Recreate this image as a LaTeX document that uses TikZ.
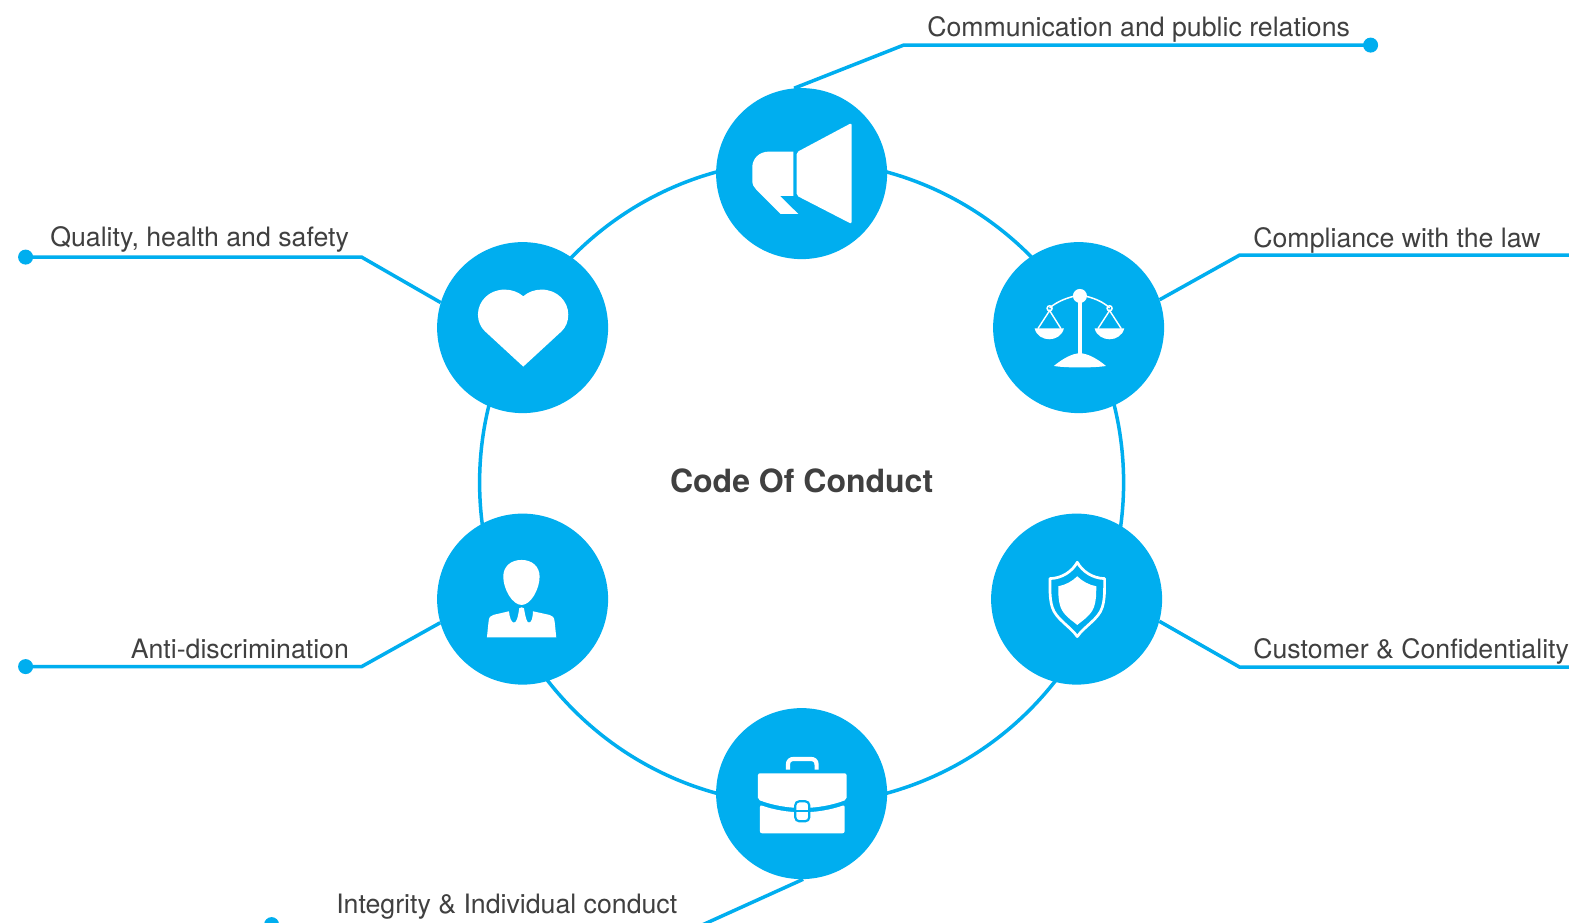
\documentclass[tikz,border=0pt]{standalone}
\usepackage{fontspec}
\setmainfont{TeX Gyre Heros}
\definecolor{cyanb}{HTML}{00AEEF}
\definecolor{txt}{HTML}{404040}
\tikzset{
  hub/.style={circle,fill=cyanb,draw=none,minimum size=171pt,inner sep=0pt},
  ringshape/.style={circle,draw=cyanb,line width=3.5pt,minimum size=644pt,inner sep=0pt},
  enddot/.style={circle,fill=cyanb,draw=none,minimum size=15pt,inner sep=0pt},
  leader/.style={draw=cyanb,line width=3.5pt,line join=miter},
  lab/.style={text=txt,font=\fontsize{26.7}{30}\selectfont,inner sep=0pt},
  icon/.style={fill=white,draw=none},
  iconline/.style={draw=white,fill=none},
}
\begin{document}
\begin{tikzpicture}[x=1pt,y=-1pt]
\useasboundingbox (0,0) rectangle (1569,922);
\clip (0,0) rectangle (1569,922);
\fill[white] (0,0) rectangle (1569,922);
\begin{scope}[shift={(0.6,0.6)}]
\node[ringshape] (ring) at (801,482) {};
% dots and elbows
\node[enddot] (dA) at (1370,44.5) {};
\coordinate (eA) at (903,44.5);
\coordinate (dB) at (1600,254.5);
\coordinate (eB) at (1239,254.5);
\coordinate (dC) at (1600,666.5);
\coordinate (eC) at (1239,666.5);
\node[enddot] (dD) at (271,924) {};
\coordinate (eD) at (698,926);
\node[enddot] (dE) at (25,666) {};
\coordinate (eE) at (361,666);
\node[enddot] (dF) at (25,256.5) {};
\coordinate (eF) at (361,256.5);
% hubs
\node[hub] (hA) at (801,173) {};
\node[hub] (hB) at (1078,327) {};
\node[hub] (hC) at (1076,598.5) {};
\node[hub] (hD) at (801,793) {};
\node[hub] (hE) at (522,598.5) {};
\node[hub] (hF) at (522,327) {};
% leaders
\draw[leader] (dA.center) -- (eA) -- (hA.95);
\draw[leader] (dB) -- (eB) -- (hB.19);
\draw[leader] (dC) -- (eC) -- (hC.-15.6);
\draw[leader] (dD.center) -- (dD.center |- eD) -- (eD) -- (hD.271);
\draw[leader] (dE.center) -- (eE) -- (hE.196);
\draw[leader] (dF.center) -- (eF) -- (hF.163);
% labels
\node[lab,anchor=base west] (lA) at (926.5,36) {Communication and public relations};
\node[lab,anchor=base west] (lB) at (1252.5,247) {Compliance with the law};
\node[lab,anchor=base west] (lC) at (1252.5,658) {Customer \& Confidentiality};
\node[lab,anchor=base west] (lD) at (335.5,913) {Integrity \& Individual conduct};
\node[lab,anchor=base east] (lE) at (348.5,658) {Anti-discrimination};
\node[lab,anchor=base east] (lF) at (348.5,246) {Quality, health and safety};
\node[text=txt,font=\fontsize{32}{36}\selectfont\bfseries,inner sep=0pt,anchor=base] (title) at (801,491.5) {Code Of Conduct};
% megaphone
\begin{scope}[shift={(700,70)},scale=1/3]
\fill[icon,rounded corners=2pt] (288,245) -- (453,157) -- (453,460) -- (288,375) -- cycle;
\fill[icon] (278,243) -- (205,243) .. controls (175,243) and (155,265) .. (155,290) -- (155,330) .. controls (155,342) and (160,350) .. (167,357) -- (240,430) -- (293,430) -- (238,376) -- (278,376) -- cycle;
\end{scope}
% scales
\begin{scope}[shift={(980,230)},scale=1/3]
\fill[icon] (292,200) rectangle (304,372);
\fill[icon] (298,196) circle (21);
\draw[iconline,line width=1.5pt] (207,232) .. controls (228,214) and (255,203) .. (280,197);
\draw[iconline,line width=1.5pt] (316,197) .. controls (342,203) and (368,214) .. (387,232);
\draw[iconline,line width=1.5pt] (207,233) circle (7.5);
\draw[iconline,line width=1.5pt] (387,233) circle (7.5);
\draw[iconline,line width=1.4pt] (172,294) -- (207,240) -- (241,294);
\draw[iconline,line width=1.4pt] (352,294) -- (387,240) -- (422,294);
\fill[icon] (162,293) -- (250,293) .. controls (245,315) and (225,326) .. (206,326) .. controls (187,326) and (167,315) .. (162,293) -- cycle;
\fill[icon] (342,293) -- (431,293) .. controls (426,315) and (406,326) .. (387,326) .. controls (368,326) and (347,315) .. (342,293) -- cycle;
\fill[icon] (220,406) .. controls (245,385) and (275,368) .. (298,368) .. controls (321,368) and (351,385) .. (376,406) .. controls (345,412) and (250,412) .. (220,406) -- cycle;
\end{scope}
% shield
\begin{scope}[shift={(980,500)},scale=1/3]
\draw[iconline,line width=2.7pt,line join=round,line cap=round] (290,185) .. controls (275,212) and (245,233) .. (208,234) -- (208,234) .. controls (208,265) and (207,295) .. (215,320) .. controls (225,355) and (270,378) .. (290,408) .. controls (310,378) and (355,355) .. (365,320) .. controls (373,295) and (372,265) .. (372,234) .. controls (335,233) and (305,212) .. (290,185) -- cycle;
\fill[icon] (290,227) .. controls (275,242) and (255,253) .. (233,257) .. controls (233,280) and (233,300) .. (240,320) .. controls (250,345) and (272,358) .. (290,373) .. controls (308,358) and (330,345) .. (340,320) .. controls (347,300) and (347,280) .. (347,257) .. controls (325,253) and (305,242) .. (290,227) -- cycle;
\end{scope}
% briefcase
\begin{scope}[shift={(700,700)},scale=1/3]
\draw[iconline,line width=4.2pt] (262,207) -- (262,192) .. controls (262,180) and (270,175) .. (280,175) -- (330,175) .. controls (340,175) and (348,180) .. (348,192) -- (348,207);
\fill[icon,rounded corners=2pt] (172,297) -- (172,218) -- (438,218) -- (438,297) .. controls (395,314) and (345,322) .. (305,322) .. controls (265,322) and (215,314) .. (172,297) -- cycle;
\fill[icon,rounded corners=2pt] (178,313) .. controls (220,328) and (265,335) .. (305,335) .. controls (345,335) and (390,328) .. (432,313) -- (432,398) -- (178,398) -- cycle;
\draw[draw=cyanb,fill=white,line width=2.2pt,rounded corners=4pt] (284,302) rectangle (326,362);
\draw[draw=cyanb,line width=2.2pt] (284,332) -- (326,332);
\end{scope}
% person
\begin{scope}[shift={(425,500)},scale=1/3]
\fill[icon] (288,178) .. controls (255,178) and (233,198) .. (233,228) .. controls (233,265) and (260,313) .. (288,313) .. controls (316,313) and (342,265) .. (342,228) .. controls (342,198) and (320,178) .. (288,178) -- cycle;
\fill[icon] (184,410) -- (392,410) -- (387,362) .. controls (386,350) and (380,345) .. (372,343) -- (322,332) .. controls (322,350) and (318,366) .. (310,366) .. controls (303,366) and (300,350) .. (295,323) -- (288,320) -- (281,323) .. controls (277,350) and (273,366) .. (265,366) .. controls (257,366) and (252,350) .. (250,332) -- (203,343) .. controls (195,345) and (190,350) .. (189,362) -- cycle;
\end{scope}
% heart
\begin{scope}[shift={(425,230)},scale=1/3]
\fill[icon] (293,197) .. controls (278,184) and (258,177) .. (237,177) .. controls (190,177) and (157,212) .. (157,252) .. controls (157,272) and (165,290) .. (178,302) -- (293,408) -- (408,302) .. controls (421,290) and (428,272) .. (428,252) .. controls (428,212) and (395,177) .. (348,177) .. controls (327,177) and (308,184) .. (293,197) -- cycle;
\end{scope}
\end{scope}
\end{tikzpicture}
\end{document}
